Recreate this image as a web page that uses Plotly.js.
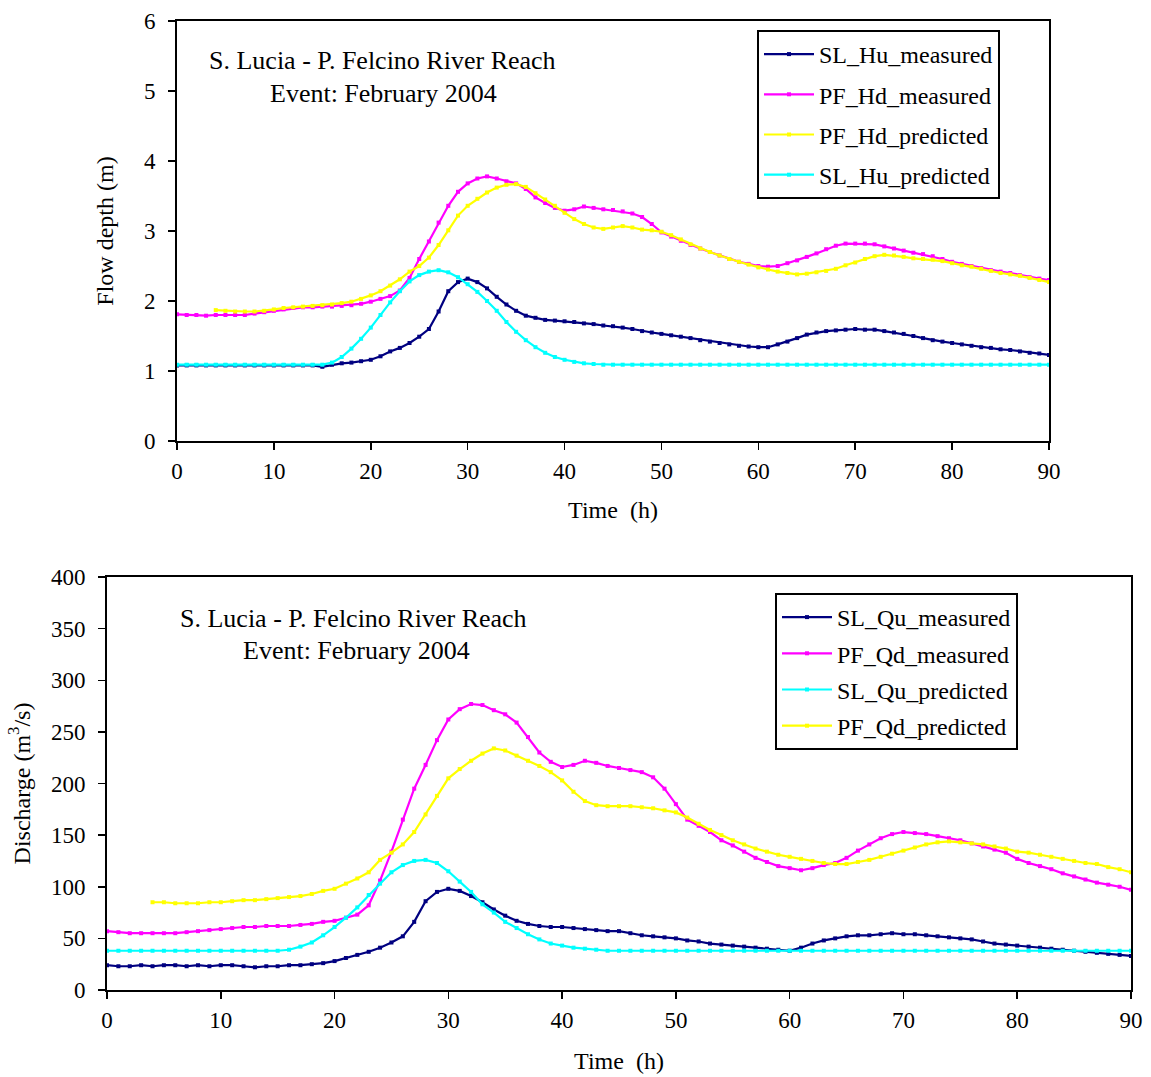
<!DOCTYPE html>
<html>
<head>
<meta charset="utf-8">
<script src="https://cdn.plot.ly/plotly-3.0.1.min.js"></script>
<style>html,body{margin:0;padding:0;background:#fff;} #chart{width:1151px;height:1077px;}</style>
</head>
<body>
<div id="chart"></div>
<script>
// Time (h)
var hours = [0,1,2,3,4,5,6,7,8,9,10,11,12,13,14,15,16,17,18,19,20,21,22,23,24,25,26,27,28,29,30,31,32,33,34,35,36,37,38,39,40,41,42,43,44,45,46,47,48,49,50,51,52,53,54,55,56,57,58,59,60,61,62,63,64,65,66,67,68,69,70,71,72,73,74,75,76,77,78,79,80,81,82,83,84,85,86,87,88,89,90];

// Flow depth (m)
var SL_Hu_measured = [1.08,1.08,1.08,1.08,1.08,1.08,1.08,1.08,1.08,1.08,1.08,1.08,1.08,1.08,1.08,
  1.06,1.09,1.11,1.12,1.14,1.16,1.21,1.28,1.33,1.40,
  1.49,1.60,1.85,2.14,2.27,2.32,2.27,2.18,2.06,1.95,
  1.86,1.79,1.76,1.73,1.72,1.71,1.70,1.68,1.67,1.65,
  1.64,1.62,1.60,1.57,1.55,1.53,1.51,1.49,1.47,1.44,
  1.42,1.40,1.38,1.36,1.35,1.34,1.34,1.38,1.42,1.47,
  1.52,1.55,1.57,1.58,1.59,1.60,1.59,1.59,1.57,1.55,
  1.53,1.50,1.47,1.44,1.42,1.40,1.38,1.36,1.34,1.33,
  1.31,1.30,1.28,1.26,1.25,1.23];
var PF_Hd_measured = [1.81,1.80,1.80,1.79,1.80,1.80,1.80,1.80,1.82,1.84,
  1.86,1.88,1.90,1.91,1.91,1.92,1.92,1.93,1.94,1.96,
  1.99,2.03,2.07,2.15,2.33,2.60,2.85,3.12,3.36,3.56,
  3.68,3.75,3.78,3.75,3.71,3.68,3.60,3.48,3.40,3.33,
  3.29,3.31,3.35,3.33,3.31,3.30,3.28,3.25,3.20,3.10,
  2.98,2.92,2.86,2.80,2.75,2.70,2.65,2.60,2.56,2.53,
  2.50,2.49,2.50,2.54,2.58,2.63,2.68,2.74,2.79,2.82,
  2.82,2.82,2.81,2.78,2.75,2.72,2.69,2.67,2.64,2.60,
  2.56,2.53,2.50,2.47,2.44,2.42,2.40,2.37,2.34,2.32,
  2.30];
var PF_Hd_predicted = [null,null,null,null,1.87,1.86,1.85,1.85,1.85,1.86,
  1.88,1.90,1.91,1.92,1.93,1.94,1.95,1.97,1.99,2.03,
  2.08,2.14,2.22,2.31,2.42,2.50,2.62,2.80,3.01,3.22,
  3.36,3.46,3.55,3.62,3.66,3.67,3.63,3.54,3.45,3.36,
  3.26,3.17,3.10,3.05,3.03,3.05,3.07,3.05,3.02,3.01,
  2.99,2.94,2.88,2.81,2.75,2.70,2.65,2.60,2.56,2.52,
  2.48,2.45,2.42,2.40,2.38,2.39,2.41,2.43,2.46,2.51,
  2.55,2.60,2.64,2.66,2.65,2.63,2.61,2.60,2.59,2.57,
  2.54,2.51,2.49,2.46,2.43,2.40,2.38,2.36,2.33,2.30,
  2.27];
var SL_Hu_predicted = [1.09,1.09,1.09,1.09,1.09,1.09,1.09,1.09,1.09,1.09,1.09,1.09,1.09,1.09,1.09,1.09,
  1.12,1.20,1.32,1.46,1.62,1.80,1.98,2.14,2.28,2.37,
  2.42,2.44,2.41,2.34,2.24,2.13,2.00,1.86,1.70,1.56,
  1.44,1.34,1.26,1.20,1.16,1.13,1.11,1.10,1.09,1.09,
  1.09,1.09,1.09,1.09,1.09,1.09,1.09,1.09,1.09,1.09,1.09,1.09,1.09,1.09,1.09,
  1.09,1.09,1.09,1.09,1.09,1.09,1.09,1.09,1.09,1.09,1.09,1.09,1.09,1.09,1.09,
  1.09,1.09,1.09,1.09,1.09,1.09,1.09,1.09,1.09,1.09,1.09,1.09,1.09,1.09,1.09];

// Discharge (m3/s)
var SL_Qu_measured = [24,23,23,24,23,24,24,23,24,23,
  24,24,23,22,23,23,24,24,25,26,
  28,31,34,37,41,46,52,66,86,95,
  98,96,91,85,78,72,67,64,62,61,
  61,60,59,58,57,57,55,53,52,51,
  50,48,47,45,44,43,42,41,40,39,
  38,41,45,48,50,52,53,53,54,55,
  54,54,53,52,51,50,49,47,45,44,
  43,42,41,40,39,38,37,36,35,34,
  33];
var PF_Qd_measured = [57,56,55,55,55,55,55,56,57,58,
  59,60,61,61,62,62,62,63,64,66,
  67,70,73,82,106,134,165,195,218,242,
  262,272,277,276,271,267,259,245,230,221,
  216,218,222,220,217,215,213,211,206,195,
  180,165,159,153,145,140,134,128,124,120,
  118,116,118,121,123,128,135,141,147,151,
  153,152,151,149,147,145,142,139,136,133,
  127,123,120,117,113,110,107,104,102,100,
  97];
var SL_Qu_predicted = [38,38,38,38,38,38,38,38,38,38,38,38,38,38,38,38,
  39,42,46,53,61,70,80,92,103,114,
  121,125,126,123,115,105,95,83,75,66,
  60,54,49,45,43,41,40,39,38,38,
  38,38,38,38,38,38,38,38,38,38,38,38,38,38,38,
  38,38,38,38,38,38,38,38,38,38,38,38,38,38,38,
  38,38,38,38,38,38,38,38,38,38,38,38,38,38,38];
var PF_Qd_predicted = [null,null,null,null,85,85,84,84,84,85,
  85,86,87,87,88,89,90,91,93,96,
  98,103,108,114,126,133,141,153,170,188,
  205,214,222,229,234,232,227,222,217,211,
  203,192,183,179,178,178,178,177,176,174,
  172,167,161,155,150,145,141,137,134,131,
  129,127,125,123,122,122,124,126,129,132,
  135,138,141,143,144,143,142,141,139,137,
  134,133,131,129,127,125,123,122,119,117,
  114];

var topNames = ['SL_Hu_measured','PF_Hd_measured','PF_Hd_predicted','SL_Hu_predicted'];
var topSeries = [SL_Hu_measured, PF_Hd_measured, PF_Hd_predicted, SL_Hu_predicted];
var topColors = ['#000080','#FF00FF','#FFFF00','#00FFFF'];
var botNames = ['SL_Qu_measured','PF_Qd_measured','SL_Qu_predicted','PF_Qd_predicted'];
var botSeries = [SL_Qu_measured, PF_Qd_measured, SL_Qu_predicted, PF_Qd_predicted];
var botColors = ['#000080','#FF00FF','#00FFFF','#FFFF00'];

var FONT = 'Liberation Serif, Times New Roman, serif';
var traces = [];
topNames.forEach(function(n,i){
  traces.push({x:hours, y:topSeries[i], name:n, type:'scatter', mode:'lines+markers',
    line:{color:topColors[i], width:2.2}, marker:{symbol:'square', size:4, color:topColors[i]},
    xaxis:'x', yaxis:'y', legend:'legend', legendgroup:'t'+i, connectgaps:false});
});
botNames.forEach(function(n,i){
  traces.push({x:hours, y:botSeries[i], name:n, type:'scatter', mode:'lines+markers',
    line:{color:botColors[i], width:2.2}, marker:{symbol:'square', size:4, color:botColors[i]},
    xaxis:'x2', yaxis:'y2', legend:'legend2', legendgroup:'b'+i, connectgaps:false});
});

var W = 1151, H = 1077;
function px(x){return x/W;}
function py(y){return 1 - y/H;}

var TICK = 23, TTL = 24, ANN = 26, LEG = 24;
var axCommon = {showgrid:false, zeroline:false, showline:true, linecolor:'#000', linewidth:2,
  mirror:true, ticks:'outside', ticklen:7, tickwidth:1.5, tickcolor:'#000',
  tickfont:{family:FONT, size:TICK, color:'#000'}, automargin:false};

var layout = {
  width:W, height:H, margin:{l:0,r:0,t:0,b:0},
  paper_bgcolor:'#fff', plot_bgcolor:'#fff', showlegend:true,
  font:{family:FONT, color:'#000'},
  xaxis: Object.assign({}, axCommon, {domain:[px(177),px(1049)], range:[0,90], dtick:10, tick0:0,
    anchor:'y', ticklabelstandoff:1, title:{text:'Time  (h)', font:{family:FONT,size:TTL,color:'#000'}, standoff:19}}),
  yaxis: Object.assign({}, axCommon, {domain:[py(441),py(21)], range:[0,6], dtick:1, tick0:0,
    anchor:'x', ticklabelstandoff:8, title:{text:'Flow depth (m)', font:{family:FONT,size:TTL,color:'#000'}, standoff:24}}),
  xaxis2: Object.assign({}, axCommon, {domain:[px(107),px(1131)], range:[0,90], dtick:10, tick0:0,
    anchor:'y2', ticklabelstandoff:1, title:{text:'Time  (h)', font:{family:FONT,size:TTL,color:'#000'}, standoff:21}}),
  yaxis2: Object.assign({}, axCommon, {domain:[py(990),py(577)], range:[0,400], dtick:50, tick0:0,
    anchor:'x2', ticklabelstandoff:8, title:{text:'Discharge (m<sup>3</sup>/s)', font:{family:FONT,size:TTL,color:'#000'}, standoff:14}}),
  legend:{x:px(757), y:py(30), xanchor:'left', yanchor:'top', bordercolor:'#000', borderwidth:2,
    bgcolor:'#fff', font:{family:FONT,size:LEG,color:'#000'}, tracegroupgap:6, traceorder:'grouped', itemwidth:50},
  legend2:{x:px(775), y:py(593), xanchor:'left', yanchor:'top', bordercolor:'#000', borderwidth:2,
    bgcolor:'#fff', font:{family:FONT,size:LEG,color:'#000'}, tracegroupgap:2, traceorder:'grouped', itemwidth:50},
  annotations:[
    {xref:'paper', yref:'paper', x:px(382), y:py(61), text:'S. Lucia - P. Felcino River Reach', showarrow:false, font:{family:FONT,size:ANN,color:'#000'}, xanchor:'center', yanchor:'middle'},
    {xref:'paper', yref:'paper', x:px(383), y:py(93), text:'Event: February 2004', showarrow:false, font:{family:FONT,size:ANN,color:'#000'}, xanchor:'center', yanchor:'middle'},
    {xref:'paper', yref:'paper', x:px(353), y:py(618), text:'S. Lucia - P. Felcino River Reach', showarrow:false, font:{family:FONT,size:ANN,color:'#000'}, xanchor:'center', yanchor:'middle'},
    {xref:'paper', yref:'paper', x:px(356), y:py(650), text:'Event: February 2004', showarrow:false, font:{family:FONT,size:ANN,color:'#000'}, xanchor:'center', yanchor:'middle'}
  ]
};

Plotly.newPlot('chart', traces, layout, {displayModeBar:false, staticPlot:true});
</script>
</body>
</html>
